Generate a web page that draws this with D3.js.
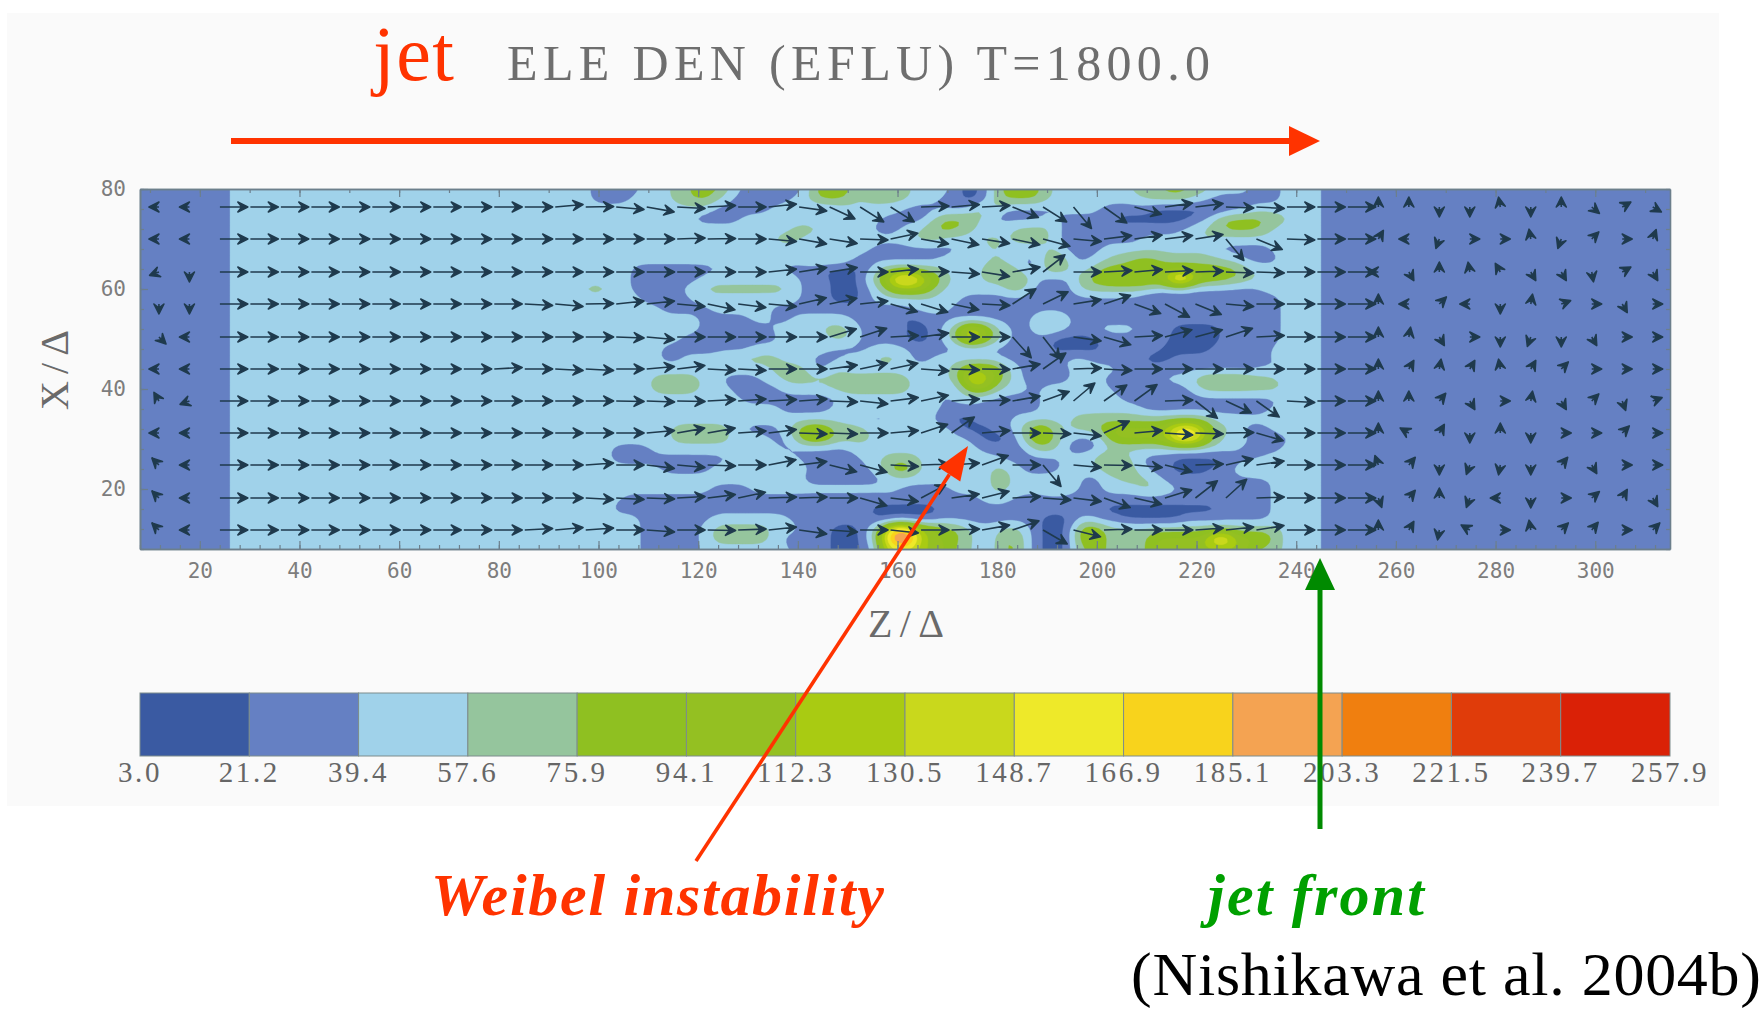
<!DOCTYPE html>
<html>
<head>
<meta charset="utf-8">
<script src="https://cdn.jsdelivr.net/npm/d3@7"></script>
<style>
html, body { margin: 0; padding: 0; background: #fff; }
</style>
</head>
<body>
<div id="canvas"></div>
<script>
// contour levels, same as the colour bar labels
var levelLabels = ["3.0", "21.2", "39.4", "57.6", "75.9", "94.1", "112.3", "130.5", "148.7", "166.9", "185.1", "203.3", "221.5", "239.7", "257.9"];
var bandColors = ["#3a5aa2", "#6580c3", "#a0d2ea", "#95c59d", "#8fc021", "#94c022", "#a9cb12", "#c9d81c", "#eee929", "#f8d31c", "#f4a352", "#f07f0f", "#e03c0a", "#da2106"];
var zTicks = [20, 40, 60, 80, 100, 120, 140, 160, 180, 200, 220, 240, 260, 280, 300];
var xTicks = [20, 40, 60, 80];

// density, top row (X=80) to bottom row (X=8), step 2.
// each row is band, column-end, band, column-end ... column 0 is Z=94
var densityRuns = [
    [2,2, 1,7, 2,10, 3,12, 4,15, 3,16, 2,17, 1,24, 4,28, 3,34, 2,38, 1,39, 0,41, 1,42, 3,43, 4,47, 3,48, 2,56, 3,59, 4,62, 3,64, 2,68, 1,71, 2,75, 1,77],
    [2,2, 1,6, 2,10, 3,12, 4,14, 3,15, 2,16, 1,22, 2,24, 4,28, 2,29, 3,34, 2,37, 1,39, 0,41, 1,42, 3,43, 4,47, 3,48, 2,57, 3,62, 2,64, 1,71, 2,75, 1,77],
    [2,14, 1,20, 2,23, 1,27, 2,33, 1,40, 3,43, 1,49, 2,53, 1,58, 0,66, 1,68, 2,75, 1,77],
    [2,12, 1,17, 2,31, 1,36, 3,37, 4,40, 3,41, 2,42, 1,47, 2,49, 1,54, 0,62, 1,64, 3,65, 4,70, 3,72, 2,75, 1,77],
    [2,22, 3,25, 2,30, 1,33, 2,35, 3,36, 4,39, 3,40, 2,44, 3,48, 2,49, 1,61, 2,63, 3,65, 4,69, 3,70, 2,75, 1,77],
    [2,20, 3,23, 2,34, 3,37, 2,41, 3,43, 2,44, 3,48, 2,49, 1,50, 0,52, 1,57, 2,63, 3,64, 2,75, 1,77],
    [2,14, 3,16, 2,30, 1,39, 2,42, 3,43, 2,48, 3,49, 1,53, 2,64, 1,70, 2,75, 1,77],
    [2,24, 3,28, 1,37, 2,42, 3,43, 2,45, 1,47, 3,48, 4,49, 3,50, 1,52, 2,54, 3,56, 4,59, 3,65, 2,67, 1,71, 2,75, 1,77],
    [2,6, 1,15, 2,21, 1,25, 0,29, 1,30, 2,31, 3,37, 2,41, 3,45, 1,47, 3,48, 4,49, 3,50, 2,52, 3,53, 4,67, 3,68, 2,75, 1,77],
    [2,6, 1,13, 2,23, 1,26, 0,29, 2,30, 3,31, 5,32, 10,35, 5,37, 3,38, 2,41, 3,44, 5,45, 3,46, 2,47, 1,50, 2,51, 4,53, 5,60, 11,62, 5,65, 4,67, 3,69, 2,75, 1,77],
    [2,1, 3,4, 2,6, 1,11, 2,13, 3,22, 2,23, 1,26, 0,29, 1,30, 2,31, 3,32, 5,36, 3,37, 2,44, 4,45, 2,46, 1,50, 2,51, 3,58, 2,61, 1,69, 2,75, 1,77],
    [2,7, 1,12, 2,23, 1,26, 0,29, 1,30, 2,39, 1,57, 0,61, 1,71, 2,75, 1,77],
    [2,9, 1,14, 2,20, 1,34, 2,38, 1,71, 2,75, 1,77],
    [2,13, 1,18, 2,20, 1,22, 2,28, 1,33, 0,35, 1,46, 2,47, 3,49, 2,50, 1,71, 2,75, 1,77],
    [2,13, 1,20, 2,25, 3,28, 2,29, 1,34, 0,36, 1,37, 2,38, 3,39, 7,41, 5,42, 3,43, 2,44, 1,46, 2,47, 3,48, 2,50, 1,52, 2,57, 1,60, 0,65, 1,71, 2,75, 1,77],
    [2,11, 1,21, 2,26, 3,28, 2,29, 1,33, 0,36, 1,37, 2,38, 3,39, 7,41, 5,42, 3,43, 2,44, 1,48, 0,53, 1,60, 0,65, 1,71, 2,75, 1,77],
    [2,9, 1,18, 2,26, 1,30, 2,34, 1,48, 0,53, 1,59, 0,64, 1,70, 2,75, 1,77],
    [2,9, 1,11, 2,15, 3,21, 2,24, 1,27, 2,30, 3,33, 2,34, 1,36, 2,43, 1,49, 2,52, 1,57, 0,60, 1,70, 2,75, 1,77],
    [2,20, 3,24, 1,26, 3,27, 2,38, 3,39, 5,43, 3,44, 2,45, 1,50, 2,55, 1,69, 2,70, 1,72, 2,75, 1,77],
    [2,8, 3,13, 2,15, 1,19, 2,21, 3,34, 2,38, 3,39, 5,40, 10,41, 5,43, 3,44, 2,45, 1,50, 2,53, 1,59, 2,62, 3,63, 4,68, 3,71, 2,75, 1,77],
    [2,8, 3,13, 2,16, 1,21, 2,26, 3,34, 2,37, 1,38, 2,39, 3,40, 5,42, 3,43, 2,46, 1,47, 2,54, 1,62, 2,63, 3,71, 2,75, 1,77],
    [2,17, 1,27, 2,37, 1,38, 2,41, 1,47, 2,55, 1,58, 0,60, 1,71, 2,75, 1,77],
    [2,21, 1,26, 2,37, 1,47, 2,57, 1,70, 2,75, 1,77],
    [2,29, 1,32, 2,36, 1,38, 0,40, 1,44, 2,50, 3,64, 2,75, 1,77],
    [2,10, 3,16, 2,17, 1,21, 2,22, 3,23, 5,26, 3,30, 2,38, 1,39, 0,42, 1,44, 2,45, 3,46, 5,48, 3,49, 2,50, 3,53, 5,60, 9,63, 5,64, 3,66, 2,67, 1,70, 2,75, 1,77],
    [2,10, 3,16, 2,20, 1,22, 3,23, 5,26, 3,30, 2,36, 3,37, 2,40, 1,41, 0,44, 1,45, 3,46, 5,48, 3,49, 2,50, 1,53, 3,54, 5,60, 9,63, 5,64, 3,65, 2,68, 1,72, 2,75, 1,77],
    [2,4, 1,8, 2,21, 1,28, 2,41, 1,46, 3,49, 1,53, 2,67, 1,71, 2,75, 1,77],
    [2,4, 1,16, 2,23, 1,29, 2,31, 3,35, 2,43, 1,49, 2,52, 3,53, 4,55, 3,56, 2,57, 1,60, 0,66, 1,69, 2,75, 1,77],
    [2,9, 1,14, 2,24, 1,30, 2,31, 3,32, 5,34, 3,35, 2,42, 3,44, 2,45, 1,49, 2,53, 3,54, 4,55, 3,57, 1,60, 0,64, 1,66, 2,67, 3,71, 2,75, 1,77],
    [2,23, 1,32, 2,42, 3,44, 2,51, 1,53, 2,55, 3,58, 2,59, 1,70, 2,75, 1,77],
    [2,14, 1,18, 2,33, 1,38, 2,42, 3,44, 2,48, 3,49, 2,51, 1,53, 2,57, 3,59, 2,61, 1,70, 2,75, 1,77],
    [2,5, 1,41, 2,44, 1,70, 2,75, 1,77],
    [2,4, 1,30, 0,37, 1,53, 0,65, 1,70, 2,75, 1,77],
    [2,7, 1,14, 2,22, 1,30, 0,36, 1,47, 0,50, 1,51, 2,52, 1,55, 0,61, 1,70, 2,75, 1,77],
    [2,7, 1,13, 2,14, 3,20, 2,23, 1,26, 0,29, 1,30, 3,31, 6,32, 10,34, 7,35, 5,37, 4,39, 3,40, 2,43, 3,45, 2,46, 1,47, 0,50, 3,51, 5,53, 3,71, 2,75, 1,77],
    [2,7, 1,13, 2,14, 3,20, 2,21, 1,26, 0,29, 1,30, 3,31, 7,32, 13,34, 8,35, 5,37, 4,39, 3,40, 2,43, 4,45, 2,46, 1,47, 0,50, 3,51, 5,53, 3,58, 5,64, 10,66, 5,70, 3,71, 2,75, 1,77],
    [2,7, 1,13, 2,22, 1,26, 0,29, 1,31, 7,35, 5,38, 3,40, 2,43, 4,45, 2,46, 1,47, 0,50, 3,52, 5,53, 3,58, 5,68, 3,71, 2,75, 1,77]
];

// arrow rows in X/Δ and direction of every arrow in degrees (0 = +Z, 90 = +X)
var arrowRowX = [76.4, 70, 63.4, 57, 50.4, 44, 37.6, 31.2, 24.8, 18.2, 11.8];
var arrowAngle = [
    [180,180, 0,0,0,0,0,0,0,0,0,0,0, 5,1,-5,-10,-3,3,0,6,-8,-25,-32,-32,2,5,3,-22,-32,-50,-35,-15,8,7,-2,-3,0,0,0, 90,90,270,270,100,270,90,320,30,330],
    [180,180, 0,0,0,0,0,0,0,0,0,0,0,0, 0,0,0,2,1,0,-5,-10,-9,-2,12,-10,-12,-9,-12,-15,-5,7,8,7,9,-50,-22,-2,0,0, 60,180,250,0,0,100,250,45,0,70],
    [200,270, 0,0,0,0,0,0,0,0,0,0,0,0,0,0,0,0,0,0, 6,9,9,0,6,1,-4,-9,10,38,0,3,5,3,2,-2,-2,0,0,0, 180,300,90,100,120,300,300,280,30,300],
    [270,270, 0,0,0,0,0,0,0,0,0,0, -3,-5,1,6,6,-5,-12,-7,-5,13,12,6,-16,-17,-12,-3,33,26,9,18,-20,-28,-22,-5,0,0,0,0, 90,180,45,180,270,80,20,0,300,0],
    [315,180, 0,0,0,0,0,0,0,0,0,0,0,0, 0,-2,-5,0,0,0,0,0,17,18,3,8,0,0,-48,-52,-8,-16,3,15,15,18,3,0,0,0, 90,80,300,0,270,250,270,300,0,0],
    [180,180, 0,0,0,0,0,0,0,0,0, 3,0,-3,-3,0,5,7,-3,-3,0,0,8,12,12,-4,-2,-1,10,35,2,-3,0,0,0,0,0,0,0,0, 90,60,80,60,100,60,45,0,0,0],
    [120,200, 0,0,0,0,0,0,0,0,0,0,0,0, 0,-1,-2,-1,3,4,3,4,-2,-6,7,12,4,2,10,20,40,35,36,2,-38,-25,-35,-3,0,0, 90,90,50,300,0,80,300,45,290,20],
    [180,180, 0,0,0,0,0,0,0,0,0,0,0,0,0,0, 5,10,10,4,7,-2,-2,0,5,18,35,5,0,-2,-6,25,5,-4,-2,1,-16,0,0,0, 90,150,60,270,90,270,0,0,45,0],
    [135,180, 0,0,0,0,0,0,0,0,0,0,0,0, 4,0,-7,-5,-2,0,11,7,-14,-15,-3,2,4,20,0,-50,-5,-1,-5,-14,2,13,8,0,0,0, 110,50,270,250,260,270,50,300,0,0],
    [135,180, 0,0,0,0,0,0,0,0,0,0,0,0, -3,-3,-2,3,7,12,2,2,0,-16,-7,28,8,14,3,-4,-7,-20,-13,17,38,42,2,0,0,0, 290,50,90,250,180,270,0,40,60,300],
    [135,180, 0,0,0,0,0,0,0,0,0,0,3,5, 4,0,-4,0,-1,2,6,-8,-4,0,-6,0,2,10,19,-30,-14,2,0,0,4,6,9,0,0,0, 90,60,260,150,0,100,45,50,0,45]
];
var jetSpeed = 5.6, ambientSpeed = 2;

var width = 1761, height = 1015;

var zScale = d3.scaleLinear().domain([8, 315]).range([140, 1670]);
var xScale = d3.scaleLinear().domain([8, 80]).range([549, 189]);

var svg = d3.select("#canvas").append("svg")
    .attr("width", width)
    .attr("height", height)
    .style("display", "block");

// slide panel behind the plot
svg.append("rect")
    .attr("x", 7).attr("y", 13)
    .attr("width", 1712).attr("height", 793)
    .attr("fill", "#fafafa");

svg.append("clipPath").attr("id", "plot-clip").append("rect")
    .attr("x", zScale(8)).attr("y", xScale(80))
    .attr("width", zScale(315) - zScale(8))
    .attr("height", xScale(8) - xScale(80));

// -- density field --
var levels = levelLabels.map(Number);
var gridCols = 155, gridRows = densityRuns.length, gridStepZ = 2.008, gridStepX = 2;
var firstDataCol = 43, lastDataCol = firstDataCol + 77;
var upsample = 3;

var cells = densityRuns.map(function(runs) {
    var bands = [], start = 0, c;
    for (c = 0; c < firstDataCol; c++) bands.push(c < 9 ? 1 : 2);
    for (var r = 0; r < runs.length; r += 2) {
        for (c = start; c < runs[r + 1]; c++) bands.push(runs[r]);
        start = runs[r + 1];
    }
    for (c = lastDataCol; c < gridCols; c++) bands.push(1);
    return bands;
});

// blocks on a finer grid, blurred so the edges round off like contours
var fineCols = gridCols * upsample, fineRows = gridRows * upsample;
var values = new Float64Array(fineCols * fineRows);
d3.range(fineRows).forEach(function(j) {
    d3.range(fineCols).forEach(function(i) {
        var b = cells[Math.floor(j / upsample)][Math.floor(i / upsample)];
        values[j * fineCols + i] = (levels[b] + levels[b + 1]) / 2;
    });
});
if (d3.blur2) d3.blur2({ data: values, width: fineCols, height: fineRows }, 2, 1.2);

var contours = d3.contours()
    .size([fineCols, fineRows])
    .thresholds(levels.slice(0, 14))(Array.from(values));

var toPixels = d3.geoTransform({
    point: function(c, r) {
        this.stream.point(
            zScale(8 + c / upsample * gridStepZ),
            xScale(80 - (r / upsample - 0.5) * gridStepX)
        );
    }
});

var plot = svg.append("g").attr("clip-path", "url(#plot-clip)");

plot.append("rect")
    .attr("x", zScale(8)).attr("y", xScale(80))
    .attr("width", zScale(315) - zScale(8))
    .attr("height", xScale(8) - xScale(80))
    .attr("fill", bandColors[1]);

plot.selectAll("path.band")
    .data(contours)
    .enter()
    .append("path")
    .attr("class", "band")
    .attr("d", d3.geoPath(toPixels))
    .attr("fill", function(d, i) { return bandColors[i]; })
    .attr("stroke", function(d, i) { return bandColors[i]; })
    .attr("stroke-width", 0.4);

// -- velocity arrows --
var arrowData = [];
arrowAngle.forEach(function(row, k) {
    row.forEach(function(a, n) {
        arrowData.push({
            z: 11.8 + 6.117 * n,
            x: arrowRowX[k],
            angle: a * Math.PI / 180,
            speed: (n < 2 || n > 39) ? ambientSpeed : jetSpeed
        });
    });
});

function arrowPath(d) {
    var x0 = zScale(d.z), y0 = xScale(d.x);
    var x1 = zScale(d.z + d.speed * Math.cos(d.angle));
    var y1 = xScale(d.x + d.speed * Math.sin(d.angle));
    var ux = Math.cos(d.angle), uy = -Math.sin(d.angle);
    var line = "M" + x0 + "," + y0 + "L" + x1 + "," + y1;
    // barbed head
    var head = "M" + x1 + "," + y1 +
        "L" + (x1 - 10 * ux - 5 * uy) + "," + (y1 - 10 * uy + 5 * ux) +
        "L" + (x1 - 6 * ux) + "," + (y1 - 6 * uy) +
        "L" + (x1 - 10 * ux + 5 * uy) + "," + (y1 - 10 * uy - 5 * ux) + "Z";
    return line + head;
}

plot.selectAll("path.arrow")
    .data(arrowData)
    .enter()
    .append("path")
    .attr("class", "arrow")
    .attr("d", arrowPath)
    .attr("fill", "#1f3a4d")
    .attr("stroke", "#1f3a4d")
    .attr("stroke-width", 1.6)
    .attr("stroke-linejoin", "round");

// -- frame and axes --
var frameColor = "#6c7f8c";
function tidy(g) {
    g.select(".domain").attr("stroke", frameColor).attr("stroke-width", 1.6);
    g.selectAll(".tick line").attr("stroke", frameColor).attr("stroke-width", 1.2);
}
function minorValues(scale, step) {
    var d = scale.domain();
    return d3.range(Math.ceil(d[0] / step) * step, d[1] + 0.1, step);
}

svg.append("g").attr("transform", "translate(0," + xScale(8) + ")")
    .call(d3.axisBottom(zScale).tickValues(minorValues(zScale, 4)).tickSize(-4).tickFormat("").tickSizeOuter(0))
    .call(tidy);
svg.append("g").attr("transform", "translate(0," + xScale(80) + ")")
    .call(d3.axisTop(zScale).tickValues(minorValues(zScale, 10)).tickSize(-4).tickFormat("").tickSizeOuter(0))
    .call(tidy);
svg.append("g").attr("transform", "translate(" + zScale(8) + ",0)")
    .call(d3.axisLeft(xScale).tickValues(minorValues(xScale, 4)).tickSize(-4).tickFormat("").tickSizeOuter(0))
    .call(tidy);
svg.append("g").attr("transform", "translate(" + zScale(315) + ",0)")
    .call(d3.axisRight(xScale).tickValues(minorValues(xScale, 4)).tickSize(-4).tickFormat("").tickSizeOuter(0))
    .call(tidy);

var bottomAxis = svg.append("g").attr("transform", "translate(0," + xScale(8) + ")")
    .call(d3.axisBottom(zScale).tickValues(zTicks).tickSize(-8).tickPadding(14).tickSizeOuter(0))
    .call(tidy);
var topAxis = svg.append("g").attr("transform", "translate(0," + xScale(80) + ")")
    .call(d3.axisTop(zScale).tickValues(zTicks).tickSize(-8).tickFormat("").tickSizeOuter(0))
    .call(tidy);
var leftAxis = svg.append("g").attr("transform", "translate(" + zScale(8) + ",0)")
    .call(d3.axisLeft(xScale).tickValues(xTicks).tickSize(-8).tickPadding(14).tickSizeOuter(0))
    .call(tidy);
[bottomAxis, leftAxis].forEach(function(g) {
    g.selectAll("text")
        .attr("fill", "#7d7d7d")
        .style("font-family", "'DejaVu Sans Mono'")
        .style("font-size", "21px");
});

// axis titles
svg.append("text")
    .attr("x", 906).attr("y", 637)
    .attr("text-anchor", "middle")
    .attr("textLength", 76)
    .attr("fill", "#6a6a6a")
    .style("font-family", "'Liberation Serif'")
    .style("font-size", "40px")
    .text("Z/Δ");
svg.append("text")
    .attr("transform", "translate(68,370) rotate(-90)")
    .attr("text-anchor", "middle")
    .attr("textLength", 80)
    .attr("fill", "#6a6a6a")
    .style("font-family", "'Liberation Serif'")
    .style("font-size", "40px")
    .text("X/Δ");

// -- colour bar --
var barIndex = d3.scaleLinear().domain([0, 14]).range([140, 1670]);
var barBand = d3.scaleBand().domain(d3.range(14)).range([140, 1670]);
var legend = svg.append("g");
legend.selectAll("rect")
    .data(bandColors)
    .enter()
    .append("rect")
    .attr("x", function(d, i) { return barBand(i); })
    .attr("y", 693)
    .attr("width", barBand.bandwidth())
    .attr("height", 63)
    .attr("fill", function(d) { return d; })
    .attr("stroke", "#7d8c8c")
    .attr("stroke-width", 1);
legend.selectAll("text")
    .data(levelLabels)
    .enter()
    .append("text")
    .attr("x", function(d, i) { return barIndex(i); })
    .attr("y", 782)
    .attr("text-anchor", "middle")
    .attr("fill", "#666")
    .style("font-family", "'Liberation Serif'")
    .style("font-size", "29px")
    .style("letter-spacing", "2.6px")
    .text(function(d) { return d; });

// -- title and annotations --
svg.append("text")
    .attr("x", 507).attr("y", 80)
    .attr("textLength", 703)
    .attr("fill", "#6e6e6e")
    .style("font-family", "'Liberation Serif'")
    .style("font-size", "50px")
    .text("ELE DEN (EFLU) T=1800.0");

function note(text, x, y, size, color, style, len) {
    svg.append("text")
        .attr("x", x).attr("y", y)
        .attr("textLength", len)
        .attr("fill", color)
        .style("font-family", "'Liberation Serif'")
        .style("font-size", size + "px")
        .style("font-style", style === "plain" ? "normal" : "italic")
        .style("font-weight", style === "plain" ? "normal" : "bold")
        .text(text);
}
note("jet", 373, 80, 78, "#ff3300", "plain", 81);
note("Weibel instability", 431, 915, 60, "#ff3300", "bold", 453);
note("jet front", 1208, 915, 60, "#00a000", "bold", 216);
note("(Nishikawa et al. 2004b)", 1131, 995, 62, "#000", "plain", 630);

function bigArrow(x0, y0, x1, y1, headLen, headHalf, lineWidth, color) {
    var dx = x1 - x0, dy = y1 - y0, len = Math.sqrt(dx * dx + dy * dy);
    var ux = dx / len, uy = dy / len;
    var bx = x1 - headLen * ux, by = y1 - headLen * uy;
    svg.append("line")
        .attr("x1", x0).attr("y1", y0).attr("x2", bx).attr("y2", by)
        .attr("stroke", color).attr("stroke-width", lineWidth);
    svg.append("polygon")
        .attr("points", [[x1, y1], [bx - headHalf * uy, by + headHalf * ux], [bx + headHalf * uy, by - headHalf * ux]].join(" "))
        .attr("fill", color);
}
bigArrow(231, 141, 1320, 141, 31, 15, 6, "#ff3300");
bigArrow(1320, 829, 1320, 558, 32, 15, 5, "#008a00");
bigArrow(696, 861, 968, 446, 34, 13, 3.6, "#ff3300");
</script>
</body>
</html>
